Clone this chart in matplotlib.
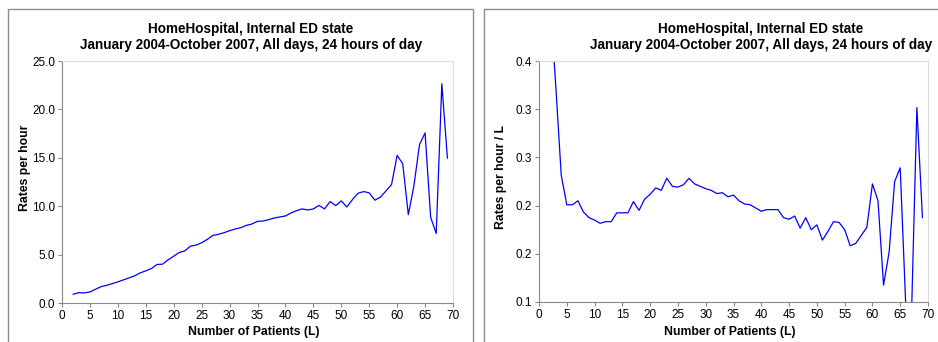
import matplotlib
matplotlib.use("Agg")
import matplotlib.pyplot as plt
from matplotlib.patches import Rectangle
from matplotlib.ticker import FormatStrFormatter

plt.rcParams['font.family'] = ['Liberation Sans', 'DejaVu Sans']

# number of patients in the ED
pacientes = list(range(2, 70))

# rates per hour (left panel)
taxa = [0.90, 1.07, 1.04, 1.14, 1.42, 1.69, 1.83, 2.00, 2.18, 2.39,
        2.59, 2.80, 3.11, 3.32, 3.56, 3.98, 4.01, 4.46, 4.84, 5.22,
        5.39, 5.88, 5.98, 6.22, 6.57, 6.98, 7.09, 7.26, 7.47, 7.64,
        7.78, 8.02, 8.16, 8.44, 8.47, 8.61, 8.78, 8.89, 8.99, 9.30,
        9.54, 9.72, 9.61, 9.72, 10.08, 9.72, 10.48, 10.06, 10.55, 9.92,
        10.68, 11.34, 11.51, 11.38, 10.62, 10.93, 11.58, 12.24, 15.25, 14.38,
        9.13, 12.10, 16.36, 17.57, 8.85, 7.19, 22.65, 14.97]

# rates per hour / L (right panel)
taxa_por_L = [0.475, 0.371, 0.258, 0.221, 0.221, 0.226, 0.212, 0.205, 0.202, 0.198,
              0.200, 0.200, 0.211, 0.211, 0.211, 0.225, 0.214, 0.228, 0.234, 0.242,
              0.239, 0.254, 0.244, 0.243, 0.246, 0.254, 0.247, 0.244, 0.241, 0.239,
              0.235, 0.236, 0.231, 0.233, 0.226, 0.222, 0.221, 0.217, 0.213, 0.215,
              0.215, 0.215, 0.205, 0.203, 0.207, 0.192, 0.205, 0.190, 0.196, 0.177,
              0.188, 0.200, 0.199, 0.190, 0.170, 0.173, 0.183, 0.193, 0.247, 0.226,
              0.121, 0.162, 0.250, 0.267, 0.095, 0.075, 0.342, 0.205]

titulo = 'HomeHospital, Internal ED state'
subtitulo = 'January 2004-October 2007, All days, 24 hours of day'

W, H = 938, 342
fig = plt.figure(figsize=(W / 100, H / 100), dpi=100)


def px(x0, y0, x1, y1):
    # pixel box (top-left origin) -> figure fraction
    return [x0 / W, 1 - y1 / H, (x1 - x0) / W, (y1 - y0) / H]


# chart frames (cut off at the bottom / right like the screenshot)
for x0, x1 in [(8, 473), (484, 960)]:
    fig.add_artist(Rectangle((x0 / W, -0.1), (x1 - x0) / W, 1 - 9 / H + 0.1,
                             transform=fig.transFigure, fill=False,
                             edgecolor='#8c8c8c', linewidth=1.0))


def painel(box, y, ylim, yticks, fmt, ylabel, cx, ylx, yly):
    ax = fig.add_axes(px(*box))
    ax.plot(pacientes, y, color='#0000ff', linewidth=0.9)
    ax.set_xlim(0, 70)
    ax.set_ylim(*ylim)
    ax.set_xticks(range(0, 71, 5))
    ax.set_yticks(yticks)
    ax.yaxis.set_major_formatter(FormatStrFormatter(fmt))
    for s in ['top', 'right']:
        ax.spines[s].set_color('#dddddd')
    for s in ['left', 'bottom']:
        ax.spines[s].set_color('#888888')
    ax.tick_params(direction='out', length=3, width=0.8, color='#888888',
                   labelsize=8.5, pad=2)
    fig.text(cx / W, 1 - 29 / H, titulo, ha='center', va='center',
             fontsize=9.75, fontweight='bold')
    fig.text(cx / W, 1 - 45 / H, subtitulo, ha='center', va='center',
             fontsize=9.75, fontweight='bold')
    fig.text(((box[0] + box[2]) / 2 - 4) / W, 1 - 332 / H, 'Number of Patients (L)',
             ha='center', va='center', fontsize=8.85, fontweight='bold')
    fig.text(ylx / W, 1 - yly / H, ylabel, ha='center', va='center',
             rotation=90, fontsize=8.85, fontweight='bold')
    return ax


painel((62, 61, 453, 303), taxa, (0, 25), [0, 5, 10, 15, 20, 25], '%.1f',
       'Rates per hour', 251, 25, 168)
painel((539, 61, 928, 302), taxa_por_L, (0.1, 0.4),
       [0.1, 0.16, 0.22, 0.28, 0.34, 0.4], '%.1f',
       'Rates per hour / L', 761, 501, 177)

fig.savefig('out.png', dpi=100)
